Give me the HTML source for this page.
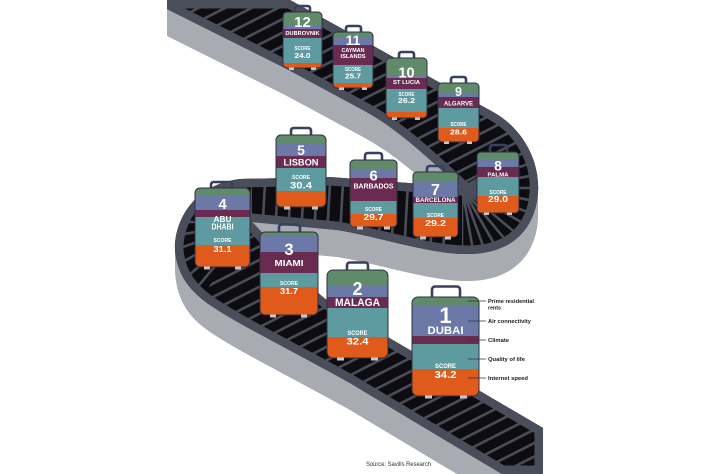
<!DOCTYPE html>
<html><head><meta charset="utf-8"><style>
html,body{margin:0;padding:0;background:#fff;width:711px;height:474px;overflow:hidden}
svg{display:block}
.G{fill:#5f8b6a}.B{fill:#6c78a7}.M{fill:#6a2b50}.T{fill:#5d9ba1}.O{fill:#e05a1b}
.ol{fill:none;stroke:#2e3040;stroke-width:1}
.h{fill:none;stroke:#39405f;stroke-width:2.6;stroke-linejoin:round}
.w{fill:#c6c8cd}
.side{fill:#a8abb1}
text{font-family:"Liberation Sans",Arial,sans-serif;fill:#fff;font-weight:bold;text-anchor:middle}
.lg{fill:#1c1c1c;text-anchor:start}
.ll{stroke:#333;stroke-width:0.8}
</style></head><body>
<svg width="711" height="474" viewBox="0 0 711 474" xmlns="http://www.w3.org/2000/svg">
<defs>
<path id="surf" d="M167,9 L167,0 L290,0 L493,112 C522,128 540,160 538,192 C536,226 515,253 470,254 C432,255 385,238 337,230 L252,222 C282,252 308,292 345,312 L543,428 L543,474 L502,474 L440,437 L350,383 C300,355 240,325 213,307 C190,292 177,275 175,250 C174,225 190,185 240,179 L330,177 L460,187 C430,160 400,130 363,110 L285,68 Z"/>
<clipPath id="sc"><use href="#surf"/></clipPath>
<clipPath id="topR"><polygon points="167,0 543,0 543,125 462,188 167,10"/></clipPath>
<clipPath id="rightR"><polygon points="462,188 543,125 543,300 462,300"/></clipPath>
<clipPath id="midR"><polygon points="252,160 400,160 462,188 462,275 330,265 252,222"/></clipPath>
<clipPath id="leftR"><polygon points="252,222 252,150 167,150 167,300 200,300"/></clipPath>
<clipPath id="lowR"><polygon points="252,222 200,300 167,310 167,474 543,474 543,400"/></clipPath>
<pattern id="st" patternUnits="userSpaceOnUse" width="40" height="12" patternTransform="rotate(-27)"><rect width="40" height="12" fill="#0d0d11"/><rect width="40" height="2.6" fill="#4a4d5a"/></pattern>
<clipPath id="c12"><rect x="283" y="12" width="39" height="56" rx="4"/></clipPath>
<clipPath id="c11"><rect x="333" y="32" width="40" height="56" rx="4"/></clipPath>
<clipPath id="c10"><rect x="386" y="58" width="41" height="60" rx="4"/></clipPath>
<clipPath id="c9"><rect x="438" y="83" width="41" height="59" rx="4"/></clipPath>
<clipPath id="c5"><rect x="276" y="135" width="50" height="72" rx="5"/></clipPath>
<clipPath id="c8"><rect x="477" y="152" width="42" height="61" rx="4"/></clipPath>
<clipPath id="c6"><rect x="350" y="160" width="47" height="67" rx="4"/></clipPath>
<clipPath id="c7"><rect x="413" y="172" width="45" height="65" rx="4"/></clipPath>
<clipPath id="c4"><rect x="195" y="188" width="55" height="79" rx="5"/></clipPath>
<clipPath id="c3"><rect x="260" y="232" width="58" height="83" rx="5"/></clipPath>
<clipPath id="c2"><rect x="327" y="270" width="61" height="88" rx="6"/></clipPath>
<clipPath id="c1"><rect x="412" y="297" width="67" height="99" rx="6"/></clipPath>
</defs>

<!-- conveyor belt sides -->
<path class="side" d="M167,9 L285,68 L363,110 C400,130 430,160 460,187 L460,214 C430,187 400,157 363,137 L285,95 L167,36 Z"/>
<path class="side" d="M538,192 C536,226 515,253 470,254 C432,255 385,238 337,230 L252,222 L252,249 L337,257 C385,265 432,282 470,281 C515,280 536,253 538,219 Z"/>
<path class="side" d="M175,245 C177,275 190,292 213,307 C240,325 300,355 350,383 L440,437 L502,474 L457,474 L440,464 L350,410 C300,382 240,352 213,334 C190,319 177,302 175,272 Z"/>

<!-- conveyor belt surface -->
<use href="#surf" fill="#0d0d11"/>
<g clip-path="url(#sc)">
  <g clip-path="url(#topR)"><rect x="167" y="0" width="376" height="474" fill="url(#st)"/></g>
  <g clip-path="url(#lowR)"><rect x="167" y="0" width="376" height="474" fill="url(#st)"/></g>
  <g clip-path="url(#rightR)" stroke="#4a4d5a" stroke-width="2.6">
    <line x1="462" y1="188" x2="574.6" y2="123"/><line x1="462" y1="188" x2="584.2" y2="143.5"/>
    <line x1="462" y1="188" x2="590" y2="165.4"/><line x1="462" y1="188" x2="592" y2="188"/>
    <line x1="462" y1="188" x2="590" y2="210.6"/><line x1="462" y1="188" x2="584.2" y2="232.5"/>
    <line x1="462" y1="188" x2="574.6" y2="253"/><line x1="462" y1="188" x2="561.6" y2="271.6"/>
    <line x1="462" y1="188" x2="545.6" y2="287.6"/><line x1="462" y1="188" x2="527" y2="300.6"/>
    <line x1="462" y1="188" x2="506.5" y2="310.2"/><line x1="462" y1="188" x2="484.6" y2="316"/>
    <line x1="462" y1="188" x2="462" y2="318"/>
  </g>
  <g clip-path="url(#midR)" stroke="#4a4d5a" stroke-width="2.6">
    <line x1="266" y1="165" x2="260" y2="272"/><line x1="279" y1="165" x2="273" y2="272"/>
    <line x1="292" y1="165" x2="286" y2="272"/><line x1="305" y1="165" x2="299" y2="272"/>
    <line x1="318" y1="165" x2="312" y2="272"/><line x1="331" y1="165" x2="325" y2="272"/>
    <line x1="344" y1="165" x2="338" y2="272"/><line x1="357" y1="165" x2="351" y2="272"/>
    <line x1="370" y1="165" x2="364" y2="272"/><line x1="383" y1="165" x2="377" y2="272"/>
    <line x1="396" y1="165" x2="390" y2="272"/><line x1="409" y1="165" x2="403" y2="272"/>
    <line x1="422" y1="165" x2="416" y2="272"/><line x1="435" y1="165" x2="429" y2="272"/>
    <line x1="448" y1="165" x2="442" y2="272"/>
  </g>
  <g clip-path="url(#leftR)" stroke="#4a4d5a" stroke-width="2.6">
    <line x1="252" y1="222" x2="192" y2="325.9"/><line x1="252" y1="222" x2="174.9" y2="313.9"/>
    <line x1="252" y1="222" x2="160.1" y2="299.2"/><line x1="252" y1="222" x2="148.1" y2="282"/>
    <line x1="252" y1="222" x2="139.2" y2="263"/><line x1="252" y1="222" x2="133.8" y2="242.8"/>
    <line x1="252" y1="222" x2="132" y2="222"/><line x1="252" y1="222" x2="133.8" y2="201.2"/>
    <line x1="252" y1="222" x2="139.2" y2="181"/><line x1="252" y1="222" x2="148.1" y2="162"/>
    <line x1="252" y1="222" x2="160.1" y2="144.8"/><line x1="252" y1="222" x2="174.9" y2="130.1"/>
    <line x1="252" y1="222" x2="192" y2="118.1"/><line x1="252" y1="222" x2="211" y2="109.2"/>
    <line x1="252" y1="222" x2="231.1" y2="103.8"/><line x1="252" y1="222" x2="252" y2="102"/>
  </g>
  <use href="#surf" fill="none" stroke="#4a4d5a" stroke-width="17"/>
</g>

<!-- 12 DUBROVNIK -->
<path class="h" d="M295,13 V8.5 Q295,6 297.5,6 H307.5 Q310,6 310,8.5 V13"/>
<g clip-path="url(#c12)"><rect class="G" x="283" y="12" width="39" height="56"/><rect class="B" x="283" y="25" width="39" height="4"/><rect class="M" x="283" y="29" width="39" height="9"/><rect class="T" x="283" y="38" width="39" height="25"/><rect class="O" x="283" y="63" width="39" height="5"/></g>
<rect class="ol" x="283" y="12" width="39" height="56" rx="4"/>
<rect class="w" x="289" y="67.5" width="5" height="2.5"/><rect class="w" x="311" y="67.5" width="5" height="2.5"/>
<text x="302.5" y="27" font-size="15">12</text>
<text x="302.5" y="35" font-size="5.5" textLength="34" lengthAdjust="spacingAndGlyphs">DUBROVNIK</text>
<text x="302.5" y="50" font-size="5" textLength="16" lengthAdjust="spacingAndGlyphs">SCORE</text>
<text x="302.5" y="58" font-size="7.5" textLength="16" lengthAdjust="spacingAndGlyphs">24.0</text>

<!-- 11 CAYMAN ISLANDS -->
<path class="h" d="M346,33 V28.5 Q346,26 348.5,26 H358.5 Q361,26 361,28.5 V33"/>
<g clip-path="url(#c11)"><rect class="G" x="333" y="32" width="40" height="56"/><rect class="B" x="333" y="37" width="40" height="8"/><rect class="M" x="333" y="45" width="40" height="20"/><rect class="T" x="333" y="65" width="40" height="18"/><rect class="O" x="333" y="83" width="40" height="5"/></g>
<rect class="ol" x="333" y="32" width="40" height="56" rx="4"/>
<rect class="w" x="339" y="87.5" width="5" height="2.5"/><rect class="w" x="362" y="87.5" width="5" height="2.5"/>
<text x="353" y="45" font-size="14">11</text>
<text x="353" y="52" font-size="5.5" textLength="23" lengthAdjust="spacingAndGlyphs">CAYMAN</text>
<text x="353" y="58" font-size="5.5" textLength="25" lengthAdjust="spacingAndGlyphs">ISLANDS</text>
<text x="353" y="70.8" font-size="5" textLength="16" lengthAdjust="spacingAndGlyphs">SCORE</text>
<text x="353" y="78.5" font-size="7.5" textLength="16" lengthAdjust="spacingAndGlyphs">25.7</text>

<!-- 10 ST LUCIA -->
<path class="h" d="M399,59 V54.5 Q399,52 401.5,52 H411.5 Q414,52 414,54.5 V59"/>
<g clip-path="url(#c10)"><rect class="G" x="386" y="58" width="41" height="60"/><rect class="B" x="386" y="75" width="41" height="3"/><rect class="M" x="386" y="78" width="41" height="11"/><rect class="T" x="386" y="89" width="41" height="23"/><rect class="O" x="386" y="112" width="41" height="6"/></g>
<rect class="ol" x="386" y="58" width="41" height="60" rx="4"/>
<rect class="w" x="392" y="117.5" width="5" height="2.5"/><rect class="w" x="415" y="117.5" width="5" height="2.5"/>
<text x="406.5" y="77.3" font-size="14.5">10</text>
<text x="406.5" y="84.2" font-size="5.5" textLength="27" lengthAdjust="spacingAndGlyphs">ST LUCIA</text>
<text x="406.5" y="95.8" font-size="5" textLength="16" lengthAdjust="spacingAndGlyphs">SCORE</text>
<text x="406.5" y="102.8" font-size="7.5" textLength="17" lengthAdjust="spacingAndGlyphs">26.2</text>

<!-- 9 ALGARVE -->
<path class="h" d="M451,84 V79.5 Q451,77 453.5,77 H463.5 Q466,77 466,79.5 V84"/>
<g clip-path="url(#c9)"><rect class="G" x="438" y="83" width="41" height="59"/><rect class="B" x="438" y="93" width="41" height="4"/><rect class="M" x="438" y="97" width="41" height="11"/><rect class="T" x="438" y="108" width="41" height="20"/><rect class="O" x="438" y="128" width="41" height="14"/></g>
<rect class="ol" x="438" y="83" width="41" height="59" rx="4"/>
<rect class="w" x="444" y="141.5" width="5" height="2.5"/><rect class="w" x="467" y="141.5" width="5" height="2.5"/>
<text x="458.5" y="96" font-size="12.5">9</text>
<text x="458.5" y="105.3" font-size="6.5" textLength="29" lengthAdjust="spacingAndGlyphs">ALGARVE</text>
<text x="458.5" y="125.8" font-size="5" textLength="16" lengthAdjust="spacingAndGlyphs">SCORE</text>
<text x="458.5" y="134.5" font-size="7.5" textLength="17" lengthAdjust="spacingAndGlyphs">28.6</text>

<!-- 5 LISBON -->
<path class="h" d="M291,136 V131 Q291,128 294,128 H308 Q311,128 311,131 V136"/>
<g clip-path="url(#c5)"><rect class="G" x="276" y="135" width="50" height="72"/><rect class="B" x="276" y="143" width="50" height="13"/><rect class="M" x="276" y="156" width="50" height="12"/><rect class="T" x="276" y="168" width="50" height="23"/><rect class="O" x="276" y="191" width="50" height="16"/></g>
<rect class="ol" x="276" y="135" width="50" height="72" rx="5"/>
<rect class="w" x="284" y="206.5" width="6" height="3"/><rect class="w" x="312" y="206.5" width="6" height="3"/>
<text x="301" y="155" font-size="14">5</text>
<text x="301" y="165.5" font-size="9.5" textLength="35" lengthAdjust="spacingAndGlyphs">LISBON</text>
<text x="301" y="179" font-size="5.5" textLength="18" lengthAdjust="spacingAndGlyphs">SCORE</text>
<text x="301" y="188.5" font-size="9" textLength="22" lengthAdjust="spacingAndGlyphs">30.4</text>

<!-- 8 PALMA -->
<path class="h" d="M490,153 V148 Q490,145 493,145 H504 Q507,145 507,148 V153"/>
<g clip-path="url(#c8)"><rect class="G" x="477" y="152" width="42" height="61"/><rect class="B" x="477" y="160" width="42" height="7"/><rect class="M" x="477" y="167" width="42" height="10"/><rect class="T" x="477" y="177" width="42" height="19"/><rect class="O" x="477" y="196" width="42" height="17"/></g>
<rect class="ol" x="477" y="152" width="42" height="61" rx="4"/>
<rect class="w" x="484" y="212.5" width="5" height="2.5"/><rect class="w" x="507" y="212.5" width="5" height="2.5"/>
<text x="498" y="170.5" font-size="14">8</text>
<text x="498" y="176.6" font-size="5.5" textLength="21" lengthAdjust="spacingAndGlyphs">PALMA</text>
<text x="498" y="193.8" font-size="5" textLength="17" lengthAdjust="spacingAndGlyphs">SCORE</text>
<text x="498" y="202" font-size="8" textLength="20" lengthAdjust="spacingAndGlyphs">29.0</text>

<!-- 6 BARBADOS -->
<path class="h" d="M365,161 V156 Q365,153 368,153 H379 Q382,153 382,156 V161"/>
<g clip-path="url(#c6)"><rect class="G" x="350" y="160" width="47" height="67"/><rect class="B" x="350" y="169" width="47" height="9"/><rect class="M" x="350" y="178" width="47" height="23"/><rect class="T" x="350" y="201" width="47" height="13"/><rect class="O" x="350" y="214" width="47" height="13"/></g>
<rect class="ol" x="350" y="160" width="47" height="67" rx="4"/>
<rect class="w" x="357" y="226.5" width="6" height="3"/><rect class="w" x="384" y="226.5" width="6" height="3"/>
<text x="373.5" y="180.5" font-size="15">6</text>
<text x="373.5" y="188.5" font-size="7" textLength="40" lengthAdjust="spacingAndGlyphs">BARBADOS</text>
<text x="373.5" y="210.8" font-size="5" textLength="17" lengthAdjust="spacingAndGlyphs">SCORE</text>
<text x="373.5" y="220" font-size="8" textLength="20" lengthAdjust="spacingAndGlyphs">29.7</text>

<!-- 7 BARCELONA -->
<path class="h" d="M427,173 V169 Q427,166 430,166 H441 Q444,166 444,169 V173"/>
<g clip-path="url(#c7)"><rect class="G" x="413" y="172" width="45" height="65"/><rect class="B" x="413" y="182" width="45" height="15"/><rect class="M" x="413" y="197" width="45" height="6"/><rect class="T" x="413" y="203" width="45" height="15"/><rect class="O" x="413" y="218" width="45" height="19"/></g>
<rect class="ol" x="413" y="172" width="45" height="65" rx="4"/>
<rect class="w" x="420" y="236.5" width="6" height="3"/><rect class="w" x="445" y="236.5" width="6" height="3"/>
<text x="435.5" y="195" font-size="16">7</text>
<text x="435.5" y="202.2" font-size="6" textLength="40" lengthAdjust="spacingAndGlyphs">BARCELONA</text>
<text x="435.5" y="216.8" font-size="5" textLength="17" lengthAdjust="spacingAndGlyphs">SCORE</text>
<text x="435.5" y="226" font-size="8" textLength="21" lengthAdjust="spacingAndGlyphs">29.2</text>

<!-- 4 ABU DHABI -->
<path class="h" d="M211,189 V185 Q211,182 214,182 H229 Q232,182 232,185 V189"/>
<g clip-path="url(#c4)"><rect class="G" x="195" y="188" width="55" height="79"/><rect class="B" x="195" y="195" width="55" height="15"/><rect class="M" x="195" y="210" width="55" height="7"/><rect class="T" x="195" y="217" width="55" height="28"/><rect class="O" x="195" y="245" width="55" height="22"/></g>
<rect class="ol" x="195" y="188" width="55" height="79" rx="5"/>
<rect class="w" x="204" y="266.5" width="6" height="3"/><rect class="w" x="235" y="266.5" width="6" height="3"/>
<text x="222.5" y="209" font-size="15">4</text>
<text x="222.5" y="222" font-size="8.5" textLength="18" lengthAdjust="spacingAndGlyphs">ABU</text>
<text x="222.5" y="229.5" font-size="8.5" textLength="22" lengthAdjust="spacingAndGlyphs">DHABI</text>
<text x="222.5" y="242" font-size="5.5" textLength="18" lengthAdjust="spacingAndGlyphs">SCORE</text>
<text x="222.5" y="252" font-size="8" textLength="18" lengthAdjust="spacingAndGlyphs">31.1</text>

<!-- 3 MIAMI -->
<path class="h" d="M279,233 V227.5 Q279,224.5 282,224.5 H297 Q300,224.5 300,227.5 V233"/>
<g clip-path="url(#c3)"><rect class="G" x="260" y="232" width="58" height="83"/><rect class="B" x="260" y="236" width="58" height="16"/><rect class="M" x="260" y="252" width="58" height="21"/><rect class="T" x="260" y="273" width="58" height="14"/><rect class="O" x="260" y="287" width="58" height="28"/></g>
<rect class="ol" x="260" y="232" width="58" height="83" rx="5"/>
<rect class="w" x="270" y="314.5" width="6" height="3"/><rect class="w" x="301" y="314.5" width="6" height="3"/>
<text x="289" y="255" font-size="16.5">3</text>
<text x="289" y="266" font-size="8.5" textLength="29" lengthAdjust="spacingAndGlyphs">MIAMI</text>
<text x="289" y="285" font-size="5.5" textLength="18" lengthAdjust="spacingAndGlyphs">SCORE</text>
<text x="289" y="294" font-size="8" textLength="18" lengthAdjust="spacingAndGlyphs">31.7</text>

<!-- 2 MALAGA -->
<path class="h" d="M347,271 V265.5 Q347,262.5 350,262.5 H365 Q368,262.5 368,265.5 V271"/>
<g clip-path="url(#c2)"><rect class="G" x="327" y="270" width="61" height="88"/><rect class="B" x="327" y="285" width="61" height="12"/><rect class="M" x="327" y="297" width="61" height="11"/><rect class="T" x="327" y="308" width="61" height="29"/><rect class="O" x="327" y="337" width="61" height="21"/></g>
<rect class="ol" x="327" y="270" width="61" height="88" rx="6"/>
<rect class="w" x="337" y="357.5" width="7" height="3"/><rect class="w" x="371" y="357.5" width="7" height="3"/>
<text x="357.5" y="295" font-size="18">2</text>
<text x="357.5" y="306" font-size="11" textLength="45" lengthAdjust="spacingAndGlyphs">MALAGA</text>
<text x="357.5" y="335.2" font-size="6" textLength="20" lengthAdjust="spacingAndGlyphs">SCORE</text>
<text x="357.5" y="344.3" font-size="9" textLength="22" lengthAdjust="spacingAndGlyphs">32.4</text>

<!-- 1 DUBAI -->
<path class="h" d="M432,298 V290 Q432,286.5 435.5,286.5 H456.5 Q460,286.5 460,290 V298"/>
<g clip-path="url(#c1)"><rect class="G" x="412" y="297" width="67" height="99"/><rect class="B" x="412" y="305" width="67" height="31"/><rect class="M" x="412" y="336" width="67" height="8"/><rect class="T" x="412" y="344" width="67" height="25"/><rect class="O" x="412" y="369" width="67" height="27"/></g>
<rect class="ol" x="412" y="297" width="67" height="99" rx="6"/>
<rect class="w" x="425" y="395.5" width="7" height="3"/><rect class="w" x="460" y="395.5" width="7" height="3"/>
<text x="445.5" y="323" font-size="22">1</text>
<text x="445.5" y="334" font-size="11" textLength="36" lengthAdjust="spacingAndGlyphs">DUBAI</text>
<text x="445.5" y="368.2" font-size="6" textLength="21" lengthAdjust="spacingAndGlyphs">SCORE</text>
<text x="445.5" y="378" font-size="10.5" textLength="22" lengthAdjust="spacingAndGlyphs">34.2</text>

<!-- legend -->
<line class="ll" x1="468" y1="301" x2="486" y2="301"/>
<line class="ll" x1="468" y1="321" x2="486" y2="321"/>
<line class="ll" x1="468" y1="340" x2="486" y2="340"/>
<line class="ll" x1="468" y1="359" x2="486" y2="359"/>
<line class="ll" x1="468" y1="378" x2="486" y2="378"/>
<text class="lg" x="488" y="303" font-size="5.5" textLength="46" lengthAdjust="spacingAndGlyphs">Prime residential</text>
<text class="lg" x="488" y="309.5" font-size="5.5" textLength="13" lengthAdjust="spacingAndGlyphs">rents</text>
<text class="lg" x="488" y="323" font-size="5.5" textLength="43" lengthAdjust="spacingAndGlyphs">Air connectivity</text>
<text class="lg" x="488" y="342" font-size="5.5" textLength="21" lengthAdjust="spacingAndGlyphs">Climate</text>
<text class="lg" x="488" y="361" font-size="5.5" textLength="37" lengthAdjust="spacingAndGlyphs">Quality of life</text>
<text class="lg" x="488" y="380" font-size="5.5" textLength="40" lengthAdjust="spacingAndGlyphs">Internet speed</text>

<text x="366" y="466" font-size="6.5" style="fill:#333;text-anchor:start;font-weight:normal" textLength="65" lengthAdjust="spacingAndGlyphs">Source: Savills Research</text>
</svg>
</body></html>
